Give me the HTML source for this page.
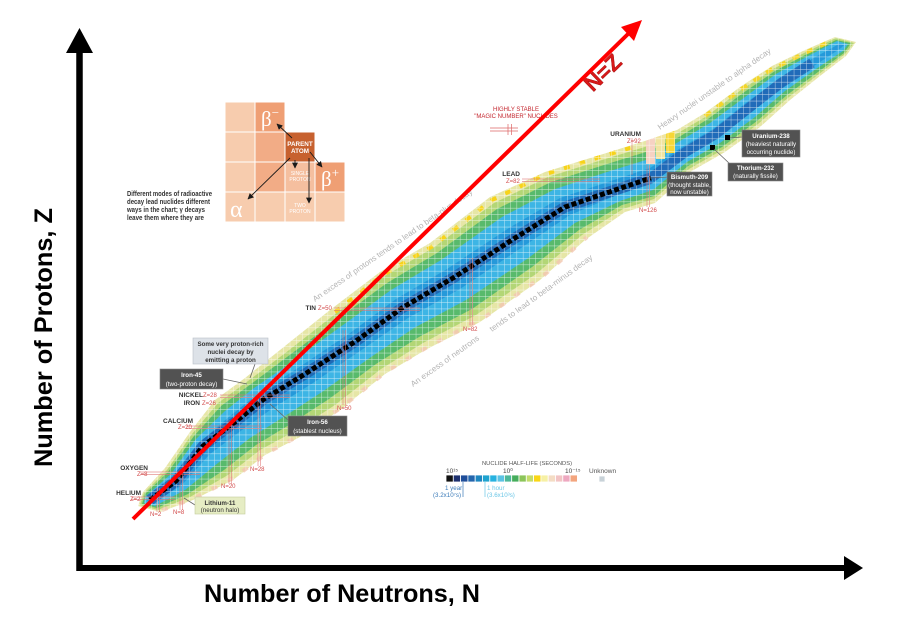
<!DOCTYPE html>
<html>
<head>
<meta charset="utf-8">
<style>
html,body{margin:0;padding:0;background:#fff;}
svg{display:block;}
</style>
</head>
<body>
<svg width="911" height="623" viewBox="0 0 911 623" xmlns="http://www.w3.org/2000/svg" font-family="'Liberation Sans', sans-serif">
<defs>
  <pattern id="grid" width="6.3" height="6.3" patternUnits="userSpaceOnUse">
    <path d="M0 0H6.3M0 0V6.3" stroke="#ffffff" stroke-width="0.9" opacity="0.75" fill="none"/>
  </pattern>
  <clipPath id="bandclip">
    <polygon points="138,506 143,492 165,468 190,432 215,400 245,378 280,350 330,310 380,272 430,243 490,197 545,172 600,155 648,140 677,130 705,113 740,87 772,66 805,50 835,37 856,42 846,56 820,76 790,100 760,127 725,152 690,172 655,203 625,212 585,240 540,280 480,322 427,349 385,374 340,410 300,437 265,455 233,480 193,500 160,512"/>
  </clipPath>
  <marker id="ah" viewBox="0 0 10 10" refX="9" refY="5" markerWidth="6" markerHeight="6" markerUnits="userSpaceOnUse" orient="auto">
    <path d="M0,0L10,5L0,10z" fill="#1a1a1a"/>
  </marker>
</defs>

<rect width="911" height="623" fill="#ffffff"/>

<!-- ===== Nuclide band ===== -->
<g>
  <polygon fill="#e6e6a6" points="138,506 143,492 165,468 190,432 215,400 245,378 280,350 330,310 380,272 430,243 490,197 545,172 600,155 648,140 677,130 705,113 740,87 772,66 805,50 835,37 856,42 846,56 820,76 790,100 760,127 725,152 690,172 655,203 625,212 585,240 540,280 480,322 427,349 385,374 340,410 300,437 265,455 233,480 193,500 160,512"/>
  <polygon fill="#b3d676" points="140,505 144,493 167,470 192,434 218,403 248,381 284,354 334,315 383,277 433,248 494,203 548,177 602,160 648,146 678,133 707,116 741,90 773,69 806,52 836,38 854,43 845,54 819,74 789,97 758,124 724,149 689,169 654,199 623,209 582,235 536,274 476,315 423,343 381,369 335,405 295,431 260,450 228,475 190,497 158,510"/>
  <polygon fill="#58ba6c" points="142,504 145,494 168,472 194,436 221,406 251,384 287,357 338,319 387,283 437,253 497,209 551,182 604,165 649,151 679,137 708,119 743,93 775,71 807,54 836,40 851,43 844,53 818,72 787,95 757,121 722,147 688,166 654,196 622,205 579,230 532,267 472,309 419,337 376,364 329,399 289,425 256,445 224,470 188,494 157,508"/>
  <polygon fill="#3db5e5" points="144,503 146,496 171,474 196,439 225,411 254,388 292,362 343,325 391,290 441,260 502,217 555,189 607,172 649,159 680,141 710,123 745,97 776,74 808,56 837,41 848,44 843,51 816,69 785,91 755,117 720,143 687,162 653,190 620,201 575,223 527,259 466,300 414,328 371,357 322,392 282,418 250,438 218,463 185,490 155,506"/>
  <polygon fill="#2599da" points="147,501 148,498 174,478 200,442 230,416 259,393 298,368 350,333 396,299 447,269 509,228 560,198 611,181 650,168 682,147 713,129 747,102 779,79 810,60 839,44 844,45 841,48 814,66 783,87 752,112 718,138 685,158 652,184 617,195 570,215 521,248 460,289 408,318 363,349 313,383 273,408 242,430 210,454 181,486 152,503"/>

  <!-- short-lived region near Po/Rn -->
  <g clip-path="url(#bandclip)">
    <rect x="646" y="136" width="9" height="28" fill="#f6d2c2"/>
    <rect x="656" y="133" width="9" height="26" fill="#f1e4a0"/>
    <rect x="666" y="131" width="9" height="22" fill="#f7d735"/>
  </g>

  <!-- yellow patches on upper edge -->
  <polyline points="335,312 383,275 433,246 492,200 546,174 600,157 640,145" fill="none" stroke="#f7d31a" stroke-width="4" stroke-dasharray="6 10"/>
  <polyline points="705,116 740,90 772,69 805,53 833,40" fill="none" stroke="#f3d52a" stroke-width="4" stroke-dasharray="7 8"/>
  <!-- pink patches on lower edge -->
  <polyline points="162,510 195,498 235,477 267,453 302,434 342,407 387,371 429,346 482,319 542,277 587,237" fill="none" stroke="#f3c6b0" stroke-width="4" stroke-dasharray="6 12" opacity="0.8"/>

  <!-- dark blue core -->
  <polyline points="150,500 176,481 203,446 235,422 264,399 305,374 356,341 402,308 453,278 515,238 565,207 615,190 651,178" fill="none" stroke="#1d5aa8" stroke-width="11" stroke-linejoin="round" opacity="0.75"/>
  <polyline points="651,178 684,153 716,134 750,107 781,83 812,63" fill="none" stroke="#1f5cad" stroke-width="10" stroke-linejoin="round" opacity="0.75"/>

  <!-- grid overlay -->
  <rect x="130" y="30" width="735" height="490" fill="url(#grid)" clip-path="url(#bandclip)"/>

  <!-- stable nuclei -->
  <polyline points="150,500 176,481 203,446 235,422 264,399 305,374 356,341 402,308 453,278 515,238 565,207 615,190 651,178" fill="none" stroke="#000" stroke-width="5" stroke-dasharray="5 2.5"/>
  <rect x="710" y="145" width="5" height="5" fill="#000"/>
  <rect x="725" y="135" width="5" height="5" fill="#000"/>
</g>

<!-- magic number lines -->
<g stroke="#e07878" stroke-width="0.7" opacity="0.8" fill="none">
  <path d="M131,497H175 M131,499.5H175"/>
  <path d="M140,472H200 M140,474.5H200"/>
  <path d="M186,426H262 M186,428.5H262"/>
  <path d="M220,395H290 M220,397.5H290"/>
  <path d="M334,308H420 M334,310.5H420"/>
  <path d="M522,179H600 M522,181.5H600"/>
  <path d="M157,488V512 M159.5,488V512"/>
  <path d="M180,470V510 M182.5,470V510"/>
  <path d="M229,420V484 M231.5,420V484"/>
  <path d="M258,392V466 M260.5,392V466"/>
  <path d="M343,330V405 M345.5,330V405"/>
  <path d="M470,258V325 M472.5,258V325"/>
  <path d="M647,165V207 M649.5,165V207"/>
  <path d="M632,138V175"/>
</g>

<!-- element labels -->
<g font-size="6.5" font-weight="bold" fill="#333" text-anchor="end">
  <text x="141" y="495">HELIUM</text>
  <text x="148" y="470">OXYGEN</text>
  <text x="193" y="423">CALCIUM</text>
  <text x="203" y="397">NICKEL</text>
  <text x="200" y="405">IRON</text>
  <text x="316" y="310">TIN</text>
  <text x="520" y="176">LEAD</text>
  <text x="641" y="136">URANIUM</text>
</g>
<g font-size="6" fill="#d24a4a">
  <text x="130" y="501">Z=2</text>
  <text x="137" y="476">Z=8</text>
  <text x="178" y="429">Z=20</text>
  <text x="203" y="397">Z=28</text>
  <text x="202" y="405">Z=26</text>
  <text x="318" y="310">Z=50</text>
  <text x="506" y="183">Z=82</text>
  <text x="627" y="143">Z=92</text>
  <text x="150" y="516">N=2</text>
  <text x="173" y="514">N=8</text>
  <text x="221" y="488">N=20</text>
  <text x="250" y="471">N=28</text>
  <text x="337" y="410">N=50</text>
  <text x="463" y="331">N=82</text>
  <text x="639" y="212">N=126</text>
</g>

<!-- magic number annotation -->
<g font-size="6" fill="#c4262e" text-anchor="middle">
  <text x="516" y="111">HIGHLY STABLE</text>
  <text x="516" y="118">"MAGIC NUMBER" NUCLIDES</text>
</g>
<g stroke="#d66" stroke-width="0.7">
  <path d="M490,128H518 M490,131H518 M508,124V135 M511.5,124V135"/>
</g>

<!-- rotated grey texts -->
<g fill="#b4b4b4" font-size="8">
  <text transform="translate(315,302) rotate(-34.6)" textLength="192" lengthAdjust="spacingAndGlyphs">An excess of protons tends to lead to beta-plus decay</text>
  <text transform="translate(413,387) rotate(-35.5)" textLength="82" lengthAdjust="spacingAndGlyphs">An excess of neutrons</text>
  <text transform="translate(492,332) rotate(-36)" textLength="125" lengthAdjust="spacingAndGlyphs">tends to lead to beta-minus decay</text>
  <text transform="translate(660,130) rotate(-34.9)" textLength="136" lengthAdjust="spacingAndGlyphs">Heavy nuclei unstable to alpha decay</text>
</g>

<!-- callout pointers -->
<g stroke="#666" stroke-width="0.8" fill="none">
  <path d="M223,379L247,384"/>
  <path d="M288,420L270,404"/>
  <path d="M667,177L650,178"/>
  <path d="M742,137L730,138"/>
  <path d="M730,164L714,149"/>
  <path d="M255,364L250,378"/>
  <path d="M195,505L184,498"/>
</g>

<!-- callout boxes -->
<g>
  <rect x="160" y="369" width="63" height="20" fill="#525252" stroke="#888" stroke-width="0.6"/>
  <rect x="288" y="416" width="59" height="20" fill="#525252" stroke="#888" stroke-width="0.6"/>
  <rect x="667" y="172" width="45" height="24" fill="#525252" stroke="#888" stroke-width="0.6"/>
  <rect x="742" y="130" width="58" height="27" fill="#525252" stroke="#888" stroke-width="0.6"/>
  <rect x="728" y="163" width="55" height="18" fill="#525252" stroke="#888" stroke-width="0.6"/>
  <rect x="193" y="338" width="75" height="26" fill="#dde2e8" stroke="#b8bec6" stroke-width="0.6"/>
  <rect x="195" y="497" width="50" height="17" fill="#e6edc4" stroke="#c4cc9c" stroke-width="0.6"/>
</g>
<g fill="#fff" font-size="6.2" text-anchor="middle">
  <text x="191.5" y="377" font-weight="bold">Iron-45</text>
  <text x="191.5" y="386">(two-proton decay)</text>
  <text x="317.5" y="424" font-weight="bold">Iron-56</text>
  <text x="317.5" y="433">(stablest nucleus)</text>
  <text x="689.5" y="179" font-weight="bold">Bismuth-209</text>
  <text x="689.5" y="187">(thought stable,</text>
  <text x="689.5" y="194">now unstable)</text>
  <text x="771" y="138" font-weight="bold">Uranium-238</text>
  <text x="771" y="146">(heaviest naturally</text>
  <text x="771" y="154">occurring nuclide)</text>
  <text x="755.5" y="170" font-weight="bold">Thorium-232</text>
  <text x="755.5" y="178">(naturally fissile)</text>
</g>
<g fill="#333" font-size="6.2" text-anchor="middle" font-weight="bold">
  <text x="230.5" y="346">Some very proton-rich</text>
  <text x="230.5" y="354">nuclei decay by</text>
  <text x="230.5" y="362">emitting a proton</text>
  <text x="220" y="505">Lithium-11</text>
  <text x="220" y="512" font-weight="normal">(neutron halo)</text>
</g>

<!-- decay inset -->
<g stroke="#fff" stroke-width="1">
  <rect x="225" y="102" width="30" height="30" fill="#f7ccae"/>
  <rect x="255" y="102" width="30" height="30" fill="#ef9f74"/>
  <rect x="225" y="132" width="30" height="30" fill="#f7ccae"/>
  <rect x="255" y="132" width="30" height="30" fill="#f2ac86"/>
  <rect x="285" y="132" width="30" height="30" fill="#c7612f"/>
  <rect x="225" y="162" width="30" height="30" fill="#f7ccae"/>
  <rect x="255" y="162" width="30" height="30" fill="#f2ac86"/>
  <rect x="285" y="162" width="30" height="30" fill="#f5bf9f"/>
  <rect x="315" y="162" width="30" height="30" fill="#ef9f74"/>
  <rect x="225" y="192" width="30" height="30" fill="#f7ccae"/>
  <rect x="255" y="192" width="30" height="30" fill="#f7ccae"/>
  <rect x="285" y="192" width="30" height="30" fill="#f7ccae"/>
  <rect x="315" y="192" width="30" height="30" fill="#f7ccae"/>
</g>
<g fill="#fff" font-family="'Liberation Serif', serif">
  <text x="261" y="126" font-size="21">β<tspan font-size="13" dy="-9">−</tspan></text>
  <text x="321" y="186" font-size="21">β<tspan font-size="13" dy="-9">+</tspan></text>
  <text x="230" y="217" font-size="24">α</text>
</g>
<g fill="#fff" text-anchor="middle">
  <text x="300" y="146" font-size="6.3" font-weight="bold">PARENT</text>
  <text x="300" y="153" font-size="6.3" font-weight="bold">ATOM</text>
  <text x="300" y="175" font-size="5">SINGLE</text>
  <text x="300" y="181" font-size="5">PROTON</text>
  <text x="300" y="207" font-size="5">TWO</text>
  <text x="300" y="213" font-size="5">PROTON</text>
</g>
<g stroke="#1a1a1a" stroke-width="0.9" fill="none">
  <path d="M292,138L277,124" marker-end="url(#ah)"/>
  <path d="M310,152L322,167" marker-end="url(#ah)"/>
  <path d="M290,158L248,199" marker-end="url(#ah)"/>
  <path d="M295,160L295,168" marker-end="url(#ah)"/>
  <path d="M309,158L309,203" marker-end="url(#ah)"/>
</g>
<g fill="#333" font-size="7" font-weight="bold">
  <text x="127" y="196" textLength="85" lengthAdjust="spacingAndGlyphs">Different modes of radioactive</text>
  <text x="127" y="204" textLength="83" lengthAdjust="spacingAndGlyphs">decay lead nuclides different</text>
  <text x="127" y="212" textLength="78" lengthAdjust="spacingAndGlyphs">ways in the chart; γ decays</text>
  <text x="127" y="220" textLength="77" lengthAdjust="spacingAndGlyphs">leave them where they are</text>
</g>

<!-- legend -->
<g>
  <text x="527" y="465" font-size="5.8" fill="#555" text-anchor="middle" textLength="90" lengthAdjust="spacingAndGlyphs">NUCLIDE HALF-LIFE (SECONDS)</text>
  <text x="446" y="473" font-size="6.5" fill="#444">10¹⁵</text>
  <text x="503" y="473" font-size="6.5" fill="#444">10⁰</text>
  <text x="565" y="473" font-size="6.5" fill="#444">10⁻¹⁵</text>
  <text x="589" y="473" font-size="6.5" fill="#555">Unknown</text>
  <g stroke="#fff" stroke-width="0.8">
    <rect x="446.0" y="475" width="7.3" height="7" fill="#111111"/>
    <rect x="453.3" y="475" width="7.3" height="7" fill="#1c2f6e"/>
    <rect x="460.6" y="475" width="7.3" height="7" fill="#1f4e9a"/>
    <rect x="467.9" y="475" width="7.3" height="7" fill="#2466ad"/>
    <rect x="475.2" y="475" width="7.3" height="7" fill="#1d86c0"/>
    <rect x="482.5" y="475" width="7.3" height="7" fill="#1ea3cf"/>
    <rect x="489.8" y="475" width="7.3" height="7" fill="#27b2e0"/>
    <rect x="497.1" y="475" width="7.3" height="7" fill="#5bc3e4"/>
    <rect x="504.4" y="475" width="7.3" height="7" fill="#4eb89a"/>
    <rect x="511.7" y="475" width="7.3" height="7" fill="#46ad5c"/>
    <rect x="519.0" y="475" width="7.3" height="7" fill="#8cc55a"/>
    <rect x="526.3" y="475" width="7.3" height="7" fill="#c3dc6a"/>
    <rect x="533.6" y="475" width="7.3" height="7" fill="#f9d616"/>
    <rect x="540.9" y="475" width="7.3" height="7" fill="#f6f0a4"/>
    <rect x="548.2" y="475" width="7.3" height="7" fill="#f4dcc4"/>
    <rect x="555.5" y="475" width="7.3" height="7" fill="#f2c4c4"/>
    <rect x="562.8" y="475" width="7.3" height="7" fill="#eea8c0"/>
    <rect x="570.1" y="475" width="7.3" height="7" fill="#f3a57e"/>
    <rect x="599" y="476" width="6" height="6" fill="#c8d2d8"/>
  </g>
  <path d="M463,482V497" stroke="#3a7ab8" stroke-width="0.7"/>
  <path d="M485,482V497" stroke="#6ac6e6" stroke-width="0.7"/>
  <text x="445" y="490" font-size="6.2" fill="#3a7ab8">1 year</text>
  <text x="433" y="497" font-size="6.2" fill="#3a7ab8">(3.2x10⁷s)</text>
  <text x="487" y="490" font-size="6.2" fill="#6ac6e6">1 hour</text>
  <text x="487" y="497" font-size="6.2" fill="#6ac6e6">(3.6x10³s)</text>
</g>

<!-- N=Z red arrow -->
<line x1="133" y1="519" x2="628" y2="34" stroke="#ff0000" stroke-width="4"/>
<polygon points="642,20 634,41 621,27" fill="#ff0000"/>
<text transform="translate(608,78) rotate(-44)" font-size="22" font-weight="bold" fill="#d81a1a" stroke="#9a0000" stroke-width="0.4" text-anchor="middle">N=Z</text>

<!-- axes -->
<line x1="79.5" y1="571" x2="79.5" y2="50" stroke="#000" stroke-width="6.5"/>
<polygon points="79.5,28 66,53 93,53" fill="#000"/>
<line x1="76.5" y1="568" x2="846" y2="568" stroke="#000" stroke-width="6"/>
<polygon points="863,568 844,556 844,580" fill="#000"/>

<!-- axis labels -->
<text x="204" y="602" font-size="25" font-weight="bold" fill="#000" textLength="276" lengthAdjust="spacingAndGlyphs">Number of Neutrons, N</text>
<text transform="translate(52,467) rotate(-90)" font-size="25" font-weight="bold" fill="#000" textLength="259" lengthAdjust="spacingAndGlyphs">Number of Protons, Z</text>

</svg>
</body>
</html>
